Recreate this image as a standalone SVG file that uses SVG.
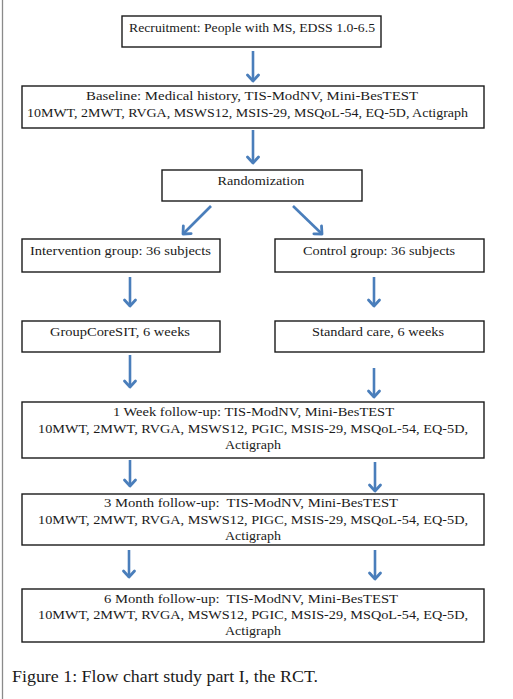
<svg xmlns="http://www.w3.org/2000/svg" width="513" height="699" viewBox="0 0 513 699">
<style>
.box{fill:#fff;stroke:#1a1a1a;stroke-width:1.4}
.t{font-family:"Liberation Serif","Times New Roman",serif;font-size:13px;fill:#1a1a1a;text-anchor:middle;white-space:pre}
.cap{font-family:"Liberation Serif","Times New Roman",serif;font-size:16.5px;fill:#1a1a1a}
.arr{stroke:#4a7ebb;stroke-width:2.6;fill:none;marker-end:url(#ah)}
</style>
<defs>
<marker id="ah" markerUnits="userSpaceOnUse" markerWidth="16" markerHeight="16" refX="8" refY="8" orient="auto" viewBox="0 0 16 16">
<polyline points="2,2.5 8,8 2,13.5" fill="none" stroke="#4a7ebb" stroke-width="2.8" stroke-linecap="round" stroke-linejoin="round"/>
</marker>
</defs>
<rect x="0" y="0" width="513" height="699" fill="#fff"/>
<line x1="2.5" y1="0" x2="2.5" y2="699" stroke="#8a8a8a" stroke-width="1.3"/>
<g id="connectors">
<line class="arr" x1="253" y1="51" x2="253" y2="81"/>
<line class="arr" x1="253" y1="130" x2="253" y2="163"/>
<line class="arr" x1="211" y1="206" x2="183" y2="234"/>
<line class="arr" x1="293" y1="206" x2="322" y2="234"/>
<line class="arr" x1="130" y1="277" x2="130" y2="306"/>
<line class="arr" x1="374" y1="277" x2="374" y2="306"/>
<line class="arr" x1="130" y1="355" x2="130" y2="387"/>
<line class="arr" x1="374" y1="368" x2="374" y2="397"/>
<line class="arr" x1="130" y1="460" x2="130" y2="486"/>
<line class="arr" x1="375" y1="462" x2="375" y2="491"/>
<line class="arr" x1="129" y1="550" x2="129" y2="577"/>
<line class="arr" x1="375" y1="550" x2="375" y2="579"/>
</g>
<g id="recruitment">
<rect class="box" x="122" y="16" width="259" height="31"/>
<text class="t" x="252" y="31.5" textLength="246" lengthAdjust="spacingAndGlyphs">Recruitment: People with MS, EDSS 1.0-6.5</text>
</g>
<g id="baseline">
<rect class="box" x="22" y="86" width="462" height="42"/>
<text class="t" x="252" y="100" textLength="332" lengthAdjust="spacingAndGlyphs">Baseline: Medical history, TIS-ModNV, Mini-BesTEST</text>
<text class="t" x="247.5" y="117" textLength="441" lengthAdjust="spacingAndGlyphs">10MWT, 2MWT, RVGA, MSWS12, MSIS-29, MSQoL-54, EQ-5D, Actigraph</text>
</g>
<g id="randomization">
<rect class="box" x="162" y="170" width="200" height="31"/>
<text class="t" x="261" y="185" textLength="87" lengthAdjust="spacingAndGlyphs">Randomization</text>
</g>
<g id="intervention">
<rect class="box" x="22" y="239" width="198" height="33"/>
<text class="t" x="120.5" y="255" textLength="181" lengthAdjust="spacingAndGlyphs">Intervention group: 36 subjects</text>
</g>
<g id="control">
<rect class="box" x="275" y="239" width="209" height="33"/>
<text class="t" x="379" y="255" textLength="152" lengthAdjust="spacingAndGlyphs">Control group: 36 subjects</text>
</g>
<g id="groupcoresit">
<rect class="box" x="22" y="321" width="198" height="31"/>
<text class="t" x="120" y="336" textLength="140" lengthAdjust="spacingAndGlyphs">GroupCoreSIT, 6 weeks</text>
</g>
<g id="standardcare">
<rect class="box" x="275" y="321" width="209" height="31"/>
<text class="t" x="378" y="336" textLength="132" lengthAdjust="spacingAndGlyphs">Standard care, 6 weeks</text>
</g>
<g id="week1">
<rect class="box" x="22" y="402" width="462" height="56"/>
<text class="t" x="253.5" y="416" textLength="281" lengthAdjust="spacingAndGlyphs">1 Week follow-up: TIS-ModNV, Mini-BesTEST</text>
<text class="t" x="253" y="433" textLength="430" lengthAdjust="spacingAndGlyphs">10MWT, 2MWT, RVGA, MSWS12, PGIC, MSIS-29, MSQoL-54, EQ-5D,</text>
<text class="t" x="253" y="449" textLength="56" lengthAdjust="spacingAndGlyphs">Actigraph</text>
</g>
<g id="month3">
<rect class="box" x="22" y="494" width="462" height="51"/>
<text class="t" x="251" y="507" textLength="294" lengthAdjust="spacingAndGlyphs">3 Month follow-up:  TIS-ModNV, Mini-BesTEST</text>
<text class="t" x="253" y="523.5" textLength="430" lengthAdjust="spacingAndGlyphs">10MWT, 2MWT, RVGA, MSWS12, PIGC, MSIS-29, MSQoL-54, EQ-5D,</text>
<text class="t" x="253" y="540" textLength="56" lengthAdjust="spacingAndGlyphs">Actigraph</text>
</g>
<g id="month6">
<rect class="box" x="22" y="589" width="462" height="53"/>
<text class="t" x="251" y="602.5" textLength="294" lengthAdjust="spacingAndGlyphs">6 Month follow-up:  TIS-ModNV, Mini-BesTEST</text>
<text class="t" x="253" y="619" textLength="430" lengthAdjust="spacingAndGlyphs">10MWT, 2MWT, RVGA, MSWS12, PGIC, MSIS-29, MSQoL-54, EQ-5D,</text>
<text class="t" x="253" y="635" textLength="56" lengthAdjust="spacingAndGlyphs">Actigraph</text>
</g>
<text class="cap" x="12" y="682" textLength="306" lengthAdjust="spacingAndGlyphs">Figure 1: Flow chart study part I, the RCT.</text>
</svg>
